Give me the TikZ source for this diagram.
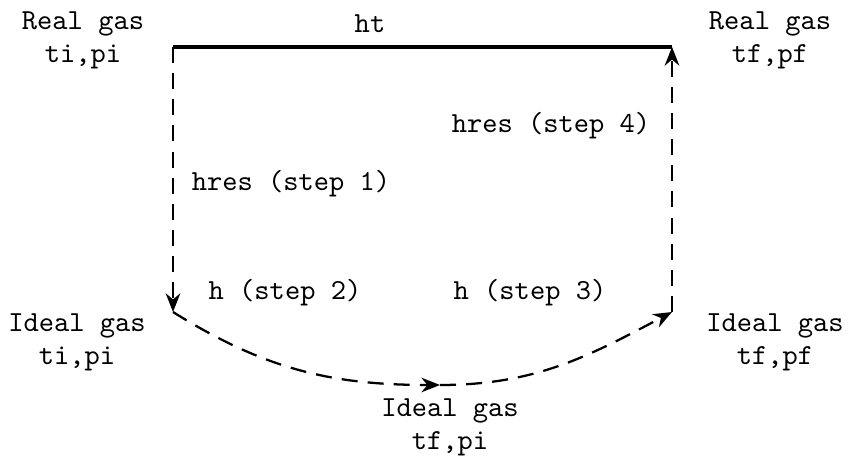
\documentclass[tikz,border=0pt]{standalone}
\usetikzlibrary{arrows.meta}
\tikzset{%
    every node/.style={%
        font=\ttfamily\fontsize{10.9}{12.4}\selectfont,%
        inner sep=0pt%
    },%
    state/.style={%
        align=center%
    },%
    dashpath/.style={%
        line width=0.85pt,%
        dash pattern=on 6pt off 3.8pt,%
        -{Stealth[length=7pt,width=5.5pt]}%
    },%
    direct/.style={%
        line width=1.6pt%
    }%
}

\begin{document}
\begin{tikzpicture}[x=0.375pt,y=-0.375pt]
    \useasboundingbox (0,0) rectangle (848,462);
    \coordinate (realI) at (173,47);
    \coordinate (realF) at (672,47);
    \coordinate (idealI) at (173,312);
    \coordinate (idealM) at (440,385);
    \coordinate (idealF) at (672,312);
    \node[state] (realIlabel) at (83,40) {Real gas\\ti,pi};
    \node[state] (realFlabel) at (770,40) {Real gas\\tf,pf};
    \node[state] (idealIlabel) at (77,342) {Ideal gas\\ti,pi};
    \node[state] (idealFlabel) at (775,342) {Ideal gas\\tf,pf};
    \node[state] (idealMlabel) at (450,427) {Ideal gas\\tf,pi};
    \node (ht) at (370,24) {ht};
    \node (res1) at (291,184) {hres (step 1)};
    \node (res4) at (551,126) {hres (step 4)};
    \node (step2) at (285,293) {h (step 2)};
    \node (step3) at (530,293) {h (step 3)};
    \draw[direct] (realI) -- (realF);
    \draw[dashpath] (realI) -- (idealI);
    \draw[dashpath] (idealI) to[out=-32,in=180] (idealM);
    \draw[dashpath] (idealM) to[out=0,in=208] (idealF);
    \draw[dashpath] (idealF) -- (realF);
\end{tikzpicture}
\end{document}
